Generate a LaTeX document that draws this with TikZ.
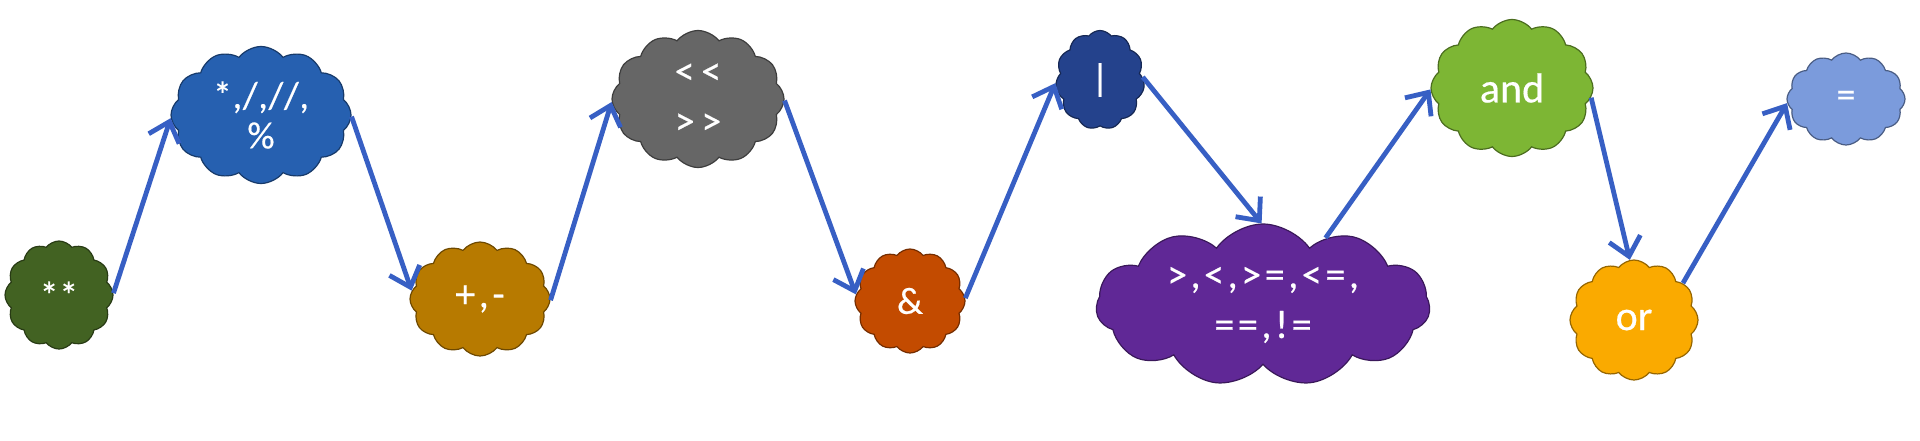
\documentclass[tikz,border=0pt]{standalone}
\usepackage{fontspec}
\setmainfont{Carlito}
\usetikzlibrary{shapes.symbols,arrows.meta}
\definecolor{cgreen}{RGB}{66,98,34}
\definecolor{cblue}{RGB}{38,96,176}
\definecolor{cbrown}{RGB}{183,122,0}
\definecolor{cgray}{RGB}{102,102,102}
\definecolor{crust}{RGB}{195,75,0}
\definecolor{cnavy}{RGB}{36,66,140}
\definecolor{cpurple}{RGB}{96,40,150}
\definecolor{clime}{RGB}{125,182,52}
\definecolor{corange}{RGB}{250,170,0}
\definecolor{csky}{RGB}{123,155,220}
\definecolor{arrowblue}{RGB}{55,95,196}
\begin{document}
\begin{tikzpicture}[x=0.5pt,y=-0.5pt,
  cl/.style={cloud, cloud puffs=12, cloud puff arc=105, cloud ignores aspect,
    inner sep=0pt, fill=#1, draw=#1!60!black, line width=0.6pt, text=white,
    font=\fontsize{19}{24}\selectfont\addfontfeature{LetterSpace=2,FakeBold=0.4}, align=center},
  wide/.style={font=\fontsize{20}{25}\selectfont\addfontfeature{LetterSpace=9,FakeBold=0.4}},
  word/.style={font=\fontsize{21}{25}\selectfont\addfontfeature{FakeBold=0.4}},
  conn/.style={draw=arrowblue, line width=2.4pt, -{Straight Barb[length=9pt,width=16pt]}}]
\fill[white] (0,0) rectangle (1920,440);
\useasboundingbox (0,0) rectangle (1920,440);
\node[cl=cgreen, minimum width=54pt, minimum height=54pt] (n1) at (59,295) {**};
\node[cl=cblue, minimum width=90pt, minimum height=68.5pt] (n2) at (261,115) {*,/,//,\\[-4pt]\%};
\node[cl=cbrown, minimum width=70pt, minimum height=57pt, wide] (n3) at (480,299) {+,-};
\node[cl=cgray, minimum width=86pt, minimum height=68.5pt, wide] (n4) at (698,99) {<\,<\\[0pt]>\,>};
\node[cl=crust, minimum width=55pt, minimum height=52pt] (n5) at (910,301) {\&};
\node[cl=cnavy, minimum width=44.5pt, minimum height=49.5pt, cloud puffs=11] (n6) at (1100,80) {|};
\node[cl=cpurple, minimum width=167pt, minimum height=81pt, cloud puffs=11, cloud puff arc=110, wide] (n7) at (1263,305) {>,<,>=,<=,\\[0pt]==,!=};
\node[cl=clime, minimum width=81pt, minimum height=68.5pt, word] (n8) at (1512,88) {and};
\node[cl=corange, minimum width=64pt, minimum height=60pt, word] (n9) at (1634,320) {or};
\node[cl=csky, minimum width=59pt, minimum height=46pt] (n10) at (1846,99) {=};
\draw[conn] (n1.2) -- (n2.182);
\draw[conn] (n2.359) -- (n3.173);
\draw[conn] (n3.359) -- (n4.182);
\draw[conn] (n4.359) -- (n5.173);
\draw[conn] (n5.3) -- (n6.184);
\draw[conn] (n6.4) -- (n7.91);
\draw[conn] (n7.47) -- (n8.181);
\draw[conn] (n8.353) -- (n9.94);
\draw[conn] (n9.37) -- (n10.184);
\end{tikzpicture}
\end{document}
